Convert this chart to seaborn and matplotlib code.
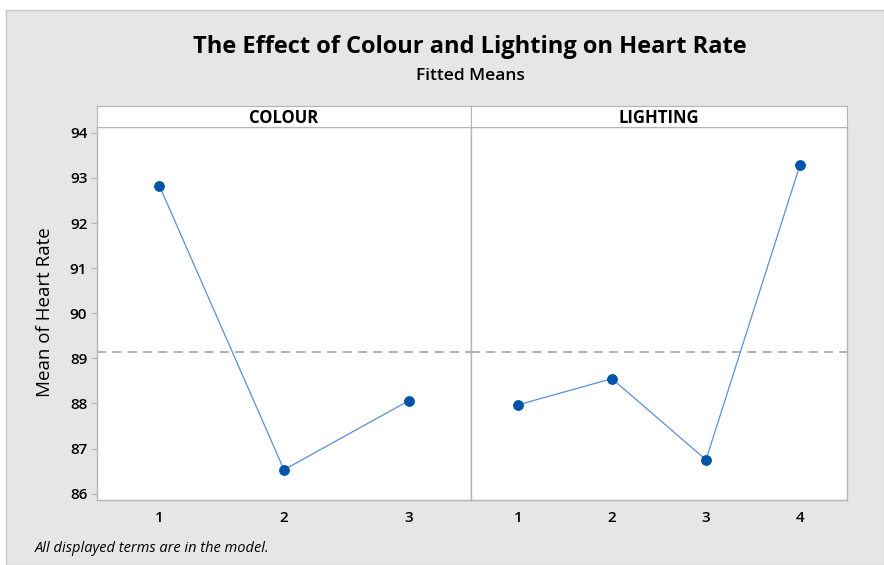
import matplotlib.pyplot as plt
import seaborn as sns
import pandas as pd
from matplotlib.patches import Rectangle

# fitted means
colour_levels = [1, 2, 3]
colour_means = [92.83, 86.53, 88.06]
lighting_levels = [1, 2, 3, 4]
lighting_means = [87.97, 88.55, 86.75, 93.29]
grand_mean = 89.14
y_ticks = [86, 87, 88, 89, 90, 91, 92, 93, 94]

sns.set_style('white')
plt.rcParams['font.family'] = ['Open Sans', 'DejaVu Sans']
plt.rcParams['text.color'] = 'black'
plt.rcParams['xtick.color'] = 'black'
plt.rcParams['ytick.color'] = 'black'

line_col = '#5b8fd0'
dot_col = '#0054a6'
edge_col = '#b4b4b4'

fig = plt.figure(figsize=(8.84, 5.65), dpi=100, facecolor='white')
fig.patches.append(Rectangle((6 / 884, 0), 1 - 6 / 884, 1 - 10 / 565, transform=fig.transFigure,
                             facecolor='#e6e6e6', edgecolor='#c8c8c8', lw=1, zorder=-10))

left, mid, right = 97 / 884, 471 / 884, 847 / 884
bottom, top, strip_top = 1 - 500 / 565, 1 - 127 / 565, 1 - 106 / 565

ax1 = fig.add_axes([left, bottom, mid - left, top - bottom])
ax2 = fig.add_axes([mid, bottom, right - mid, top - bottom], sharey=ax1)

panels = [
    (ax1, pd.DataFrame({'level': colour_levels, 'mean': colour_means}), 'COLOUR'),
    (ax2, pd.DataFrame({'level': lighting_levels, 'mean': lighting_means}), 'LIGHTING'),
]

for ax, df, name in panels:
    ax.set_facecolor('white')
    ax.axhline(grand_mean, color='#ababab', lw=1.3, ls=(0, (5, 3.5)), zorder=1)
    sns.lineplot(data=df, x='level', y='mean', ax=ax, color=line_col, lw=0.9,
                 marker='o', markersize=7, markerfacecolor=dot_col, markeredgecolor=dot_col,
                 zorder=3)
    ax.set_xlim(0.5, len(df) + 0.5)
    ax.set_xticks(df['level'])
    ax.set_xlabel('')
    ax.set_ylabel('')
    for s in ax.spines.values():
        s.set_color(edge_col)
        s.set_linewidth(1)
    ax.tick_params(axis='x', length=4, color=edge_col, labelcolor='black', labelsize=11, pad=4)
    for lab in ax.get_xticklabels():
        lab.set_fontweight('semibold')

    # strip header
    pos = ax.get_position()
    sax = fig.add_axes([pos.x0, pos.y1, pos.width, strip_top - pos.y1])
    sax.set_xticks([])
    sax.set_yticks([])
    sax.set_facecolor('white')
    for s in sax.spines.values():
        s.set_color(edge_col)
    sax.text(0.5, 0.45, name, ha='center', va='center', fontsize=12, fontweight='bold',
             color='black')

ax1.set_ylim(85.86, 94.13)
ax1.set_yticks(y_ticks)
ax1.tick_params(axis='y', length=4, color=edge_col, labelcolor='black', labelsize=11, pad=3,
                left=True)
for lab in ax1.get_yticklabels():
    lab.set_fontweight('semibold')
ax2.tick_params(axis='y', left=False, labelleft=False)

fig.text(45 / 884, 1 - 312 / 565, 'Mean of Heart Rate', rotation=90, ha='center', va='center',
         fontsize=13.5, color='black')
fig.text(470 / 884, 1 - 47 / 565, 'The Effect of Colour and Lighting on Heart Rate',
         ha='center', va='center', fontsize=17, fontweight='bold', color='black')
fig.text(470 / 884, 1 - 76 / 565, 'Fitted Means', ha='center', va='center', fontsize=12.5,
         fontweight='semibold', color='black')
fig.text(35 / 884, 1 - 549 / 565, 'All displayed terms are in the model.', ha='left',
         va='center', fontsize=10.5, style='italic', color='black')

plt.savefig('out.png', dpi=100, facecolor=fig.get_facecolor())
